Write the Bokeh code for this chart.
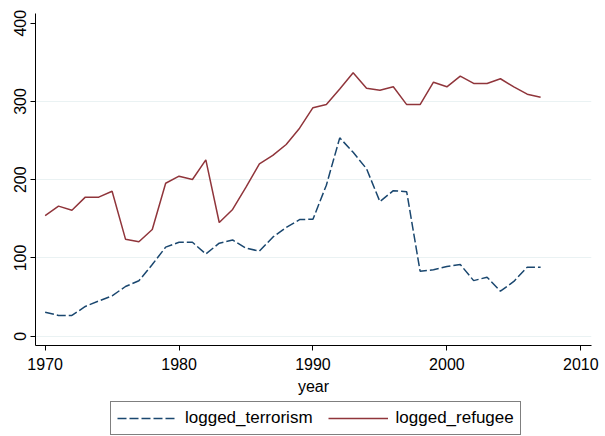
from bokeh.plotting import figure
from bokeh.layouts import column
from bokeh.models import Range1d, FixedTicker, Legend, LegendItem
from bokeh.embed import file_html
from bokeh.resources import INLINE

years = list(range(1970, 2008))
logged_terrorism = [30.7, 26.5, 26.5, 38, 45, 51.6, 63.5, 70.8, 91.6, 113.8,
                    120, 120, 105, 118.9, 123, 112.5, 108.7, 126.5, 139, 149,
                    149.5, 193, 253.5, 235, 214, 172, 186, 184.5, 83, 84.8,
                    89, 91.6, 71, 75.4, 57.5, 70, 88.2, 88.2]
logged_refugee = [154.2, 166.2, 161, 177.7, 177.7, 185.3, 124, 120.6, 136.4, 195.5,
                  204.5, 200.3, 225.4, 145.3, 162, 190.4, 220.3, 231, 245, 265.8,
                  292, 296, 316, 336.6, 317, 314.4, 318.7, 296, 296, 324.6,
                  318.7, 332.3, 323, 323, 329, 318.7, 309.3, 305.4]
x_ticks = [1970, 1980, 1990, 2000, 2010]
y_ticks = [0, 100, 200, 300, 400]
grid_ticks = [0, 100, 200, 300]

FONT = "Liberation Sans"
BLUE = "#1a476f"
RED = "#90353b"
DASH = "9 3"

p = figure(frame_width=556, frame_height=332, output_backend="svg", toolbar_location=None,
           x_range=Range1d(1969.28, 2010.8), y_range=Range1d(-11.9, 412.4),
           min_border_left=35, min_border_right=14, min_border_top=13,
           min_border_bottom=0)
p.outline_line_color = None
p.background_fill_color = "white"
p.border_fill_color = "white"

r1 = p.line(years, logged_terrorism, line_color=BLUE, line_width=1.5, line_dash=DASH)
r2 = p.line(years, logged_refugee, line_color=RED, line_width=1.5)

p.xgrid.visible = False
p.ygrid.ticker = FixedTicker(ticks=grid_ticks)
p.ygrid.grid_line_color = "#eaf2f3"
p.ygrid.grid_line_width = 1

p.xaxis.ticker = FixedTicker(ticks=x_ticks)
p.yaxis.ticker = FixedTicker(ticks=y_ticks)
for ax in (p.xaxis, p.yaxis):
    ax.axis_line_color = "black"
    ax.axis_line_width = 1
    ax.major_tick_line_color = "black"
    ax.major_tick_out = 5
    ax.major_tick_in = 0
    ax.minor_tick_line_color = None
    ax.major_label_text_font = FONT
    ax.major_label_text_font_size = "16px"
    ax.major_label_text_color = "black"
    ax.axis_label_text_font = FONT
    ax.axis_label_text_font_size = "16px"
    ax.axis_label_text_font_style = "normal"
    ax.axis_label_text_color = "black"
p.yaxis.major_label_orientation = "vertical"
p.yaxis.major_label_standoff = 4
p.xaxis.major_label_standoff = 7
p.xaxis.axis_label = "year"
p.xaxis.axis_label_standoff = 5

# legend strip below the chart (its sample lines lie outside its own view)
leg = figure(width=605, height=38, output_backend="svg", toolbar_location=None,
             x_range=Range1d(0, 1), y_range=Range1d(0, 1),
             x_axis_type=None, y_axis_type=None,
             min_border_left=0, min_border_right=0, min_border_top=0,
             min_border_bottom=0)
leg.outline_line_color = None
leg.xgrid.visible = False
leg.ygrid.visible = False
l1 = leg.line(years, logged_terrorism, line_color=BLUE, line_width=1.5, line_dash=DASH)
l2 = leg.line(years, logged_refugee, line_color=RED, line_width=1.5)

legend = Legend(items=[LegendItem(label="logged_terrorism", renderers=[l1]),
                       LegendItem(label="logged_refugee", renderers=[l2])],
                orientation="horizontal", location=(75, 0),
                label_text_font=FONT, label_text_font_size="17px",
                label_text_color="black",
                glyph_width=60, glyph_height=18, label_standoff=8,
                spacing=15, padding=6, margin=0,
                border_line_color="black", border_line_width=1,
                background_fill_color="white", background_fill_alpha=1)
leg.add_layout(legend, "center")

layout = column(p, leg, spacing=0)
open("out.html", "w").write(file_html(layout, INLINE))
